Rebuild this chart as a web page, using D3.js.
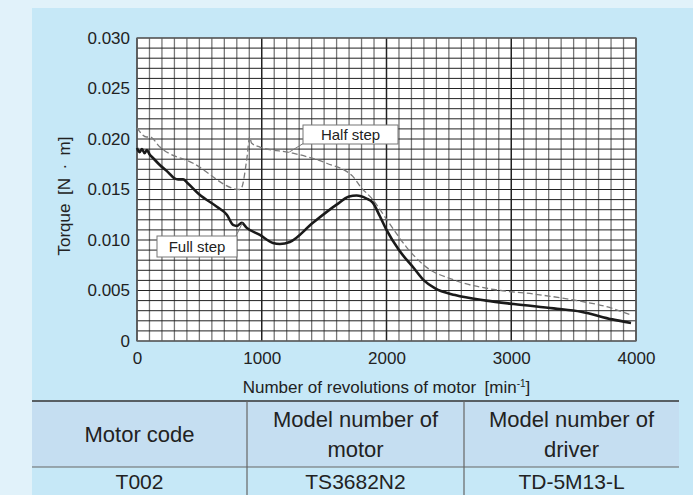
<!DOCTYPE html>
<meta charset="utf-8">
<style>
body { margin: 0; background: #e1f2fa; }
svg { display: block; font-family: "Liberation Sans", Arial, sans-serif; }
.tick text { fill: #222; }
</style>
<body>
<script src="https://d3js.org/d3.v7.min.js"></script>
<script>
// chart values
var fullRpm    = [0, 20, 40, 60, 80, 100, 130, 185, 250, 300, 330, 370, 400, 500, 640, 720, 770, 800, 840, 880, 985, 1090, 1145, 1225, 1410, 1600, 1700, 1760, 1840, 1890, 1945, 2000, 2100, 2220, 2300, 2390, 2550, 2800, 3020, 3340, 3560, 3810, 3960];
var fullTorque = [0.0191, 0.0187, 0.0190, 0.0186, 0.0189, 0.0185, 0.0181, 0.0174, 0.0167, 0.0161, 0.0160, 0.0160, 0.0157, 0.0145, 0.0133, 0.0125, 0.0115, 0.0114, 0.0117, 0.0112, 0.0105, 0.0097, 0.0096, 0.0098, 0.0117, 0.0135, 0.0143, 0.0144, 0.0141, 0.0137, 0.0124, 0.0110, 0.0090, 0.0072, 0.0060, 0.0052, 0.00455, 0.0040, 0.00366, 0.00323, 0.0029, 0.00214, 0.00178];

var halfRpm    = [0, 77, 104, 184, 450, 824, 840, 880, 904, 918, 985, 1250, 1520, 1730, 1790, 1890, 2020, 2160, 2300, 2550, 2860, 3180, 3500, 3810, 3960];
var halfTorque = [0.0211, 0.0202, 0.0202, 0.0192, 0.0176, 0.0150, 0.0152, 0.0180, 0.0202, 0.0196, 0.0192, 0.0186, 0.0176, 0.0163, 0.0153, 0.0140, 0.0117, 0.0093, 0.0075, 0.0060, 0.0051, 0.00465, 0.00406, 0.00323, 0.00257];

var xTicks = [0, 1000, 2000, 3000, 4000];
var yTicks = [0, 0.005, 0.010, 0.015, 0.020, 0.025, 0.030];

var tableHead = [["Motor code"], ["Model number of", "motor"], ["Model number of", "driver"]];
var tableRow  = ["T002", "TS3682N2", "TD-5M13-L"];

var width = 693, height = 495;
var margin = {left: 137, top: 38, right: 57, bottom: 154};
var pw = width - margin.left - margin.right,
    ph = height - margin.top - margin.bottom;

var svg = d3.select("body").append("svg")
    .attr("width", width)
    .attr("height", height);

svg.append("rect").attr("width", width).attr("height", height).attr("fill", "#e1f2fa");
svg.append("rect").attr("x", 32).attr("y", 8)
    .attr("width", width - 32).attr("height", height - 8)
    .attr("fill", "#c6e8f7");

var x = d3.scaleLinear().domain([0, 4000]).range([0, pw]);
var y = d3.scaleLinear().domain([0, 0.030]).range([ph, 0]);

var g = svg.append("g").attr("transform", "translate(" + margin.left + "," + margin.top + ")");

g.append("rect").attr("width", pw).attr("height", ph).attr("fill", "#fff");

// grid: every 100 rpm and every 0.001 N·m
g.selectAll(".vgrid")
  .data(d3.range(0, 4001, 100))
  .enter().append("line")
    .attr("x1", function(d) { return x(d); })
    .attr("x2", function(d) { return x(d); })
    .attr("y1", 0).attr("y2", ph)
    .attr("stroke", function(d) { return d % 1000 === 0 ? "#222" : "#777"; })
    .attr("stroke-width", function(d) { return d % 1000 === 0 ? 1.5 : 1.3; });

g.selectAll(".hgrid")
  .data(d3.range(0, 31))
  .enter().append("line")
    .attr("x1", 0).attr("x2", pw)
    .attr("y1", function(d) { return y(d / 1000); })
    .attr("y2", function(d) { return y(d / 1000); })
    .attr("stroke", "#222")
    .attr("stroke-width", 1);

g.append("rect").attr("width", pw).attr("height", ph)
    .attr("fill", "none").attr("stroke", "#666").attr("stroke-width", 1.3);

// axes
var yAxis = d3.axisLeft(y).tickValues(yTicks).tickSize(0).tickPadding(7)
    .tickFormat(function(d) { return d === 0 ? "0" : d3.format(".3f")(d); });
g.append("g").call(yAxis)
    .call(function(s) { s.select(".domain").remove(); })
    .selectAll("text").attr("font-size", 17).attr("font-family", null);

var xAxis = d3.axisBottom(x).tickValues(xTicks).tickSize(0).tickPadding(11)
    .tickFormat(d3.format("d"));
g.append("g").attr("transform", "translate(0," + ph + ")").call(xAxis)
    .call(function(s) { s.select(".domain").remove(); })
    .selectAll("text").attr("font-size", 17).attr("font-family", null);

// curves
var line = d3.line().curve(d3.curveMonotoneX);

g.append("path")
    .attr("d", line(halfRpm.map(function(d, i) { return [x(d), y(halfTorque[i])]; })))
    .attr("fill", "none")
    .attr("stroke", "#7a7a7a")
    .attr("stroke-width", 1.3)
    .attr("stroke-dasharray", "6,3");

g.append("path")
    .attr("d", line(fullRpm.map(function(d, i) { return [x(d), y(fullTorque[i])]; })))
    .attr("fill", "none")
    .attr("stroke", "#1a1a1a")
    .attr("stroke-width", 2.6)
    .attr("stroke-linejoin", "round");

// callout labels
function callout(text, bx, bw, by, bh, from, to) {
  g.append("line")
    .attr("x1", x(from[0])).attr("y1", y(from[1]))
    .attr("x2", to[0]).attr("y2", to[1])
    .attr("stroke", "#777").attr("stroke-width", 1);
  g.append("rect")
    .attr("x", bx).attr("y", by).attr("width", bw).attr("height", bh)
    .attr("fill", "#fff").attr("stroke", "#777").attr("stroke-width", 1);
  g.append("text")
    .attr("x", bx + bw / 2).attr("y", by + bh / 2)
    .attr("dy", "0.35em").attr("text-anchor", "middle")
    .attr("font-size", 15).attr("fill", "#222")
    .text(text);
}
callout("Half step", 166, 95, 87, 19, [1220, 0.0187], [167, 105]);
callout("Full step", 20, 80, 198, 21, [845, 0.0117], [99, 198]);

// axis titles
svg.append("text")
    .attr("transform", "translate(70,196) rotate(-90)")
    .attr("text-anchor", "middle")
    .attr("font-size", 17).attr("fill", "#222")
    .text("Torque\u2002[N\u2002\u00b7\u2002m]");

var xt = svg.append("text")
    .attr("x", margin.left + pw / 2).attr("y", 393)
    .attr("text-anchor", "middle")
    .attr("font-size", 17).attr("fill", "#222")
    .text("Number of revolutions of motor\u2002[min");
xt.append("tspan").attr("font-size", 10).attr("dy", -6).text("-1");
xt.append("tspan").attr("dy", 6).text("]");

// table
var tx = [32, 247, 464, 679];
var tTop = 401, tMid = 467, tBot = 495;

svg.append("rect").attr("x", tx[0]).attr("y", tTop)
    .attr("width", tx[3] - tx[0]).attr("height", tMid - tTop)
    .attr("fill", "#c5def1");

svg.append("line").attr("x1", tx[0]).attr("x2", tx[3]).attr("y1", tTop).attr("y2", tTop)
    .attr("stroke", "#333").attr("stroke-width", 1.5);
svg.append("line").attr("x1", tx[0]).attr("x2", tx[3]).attr("y1", tMid).attr("y2", tMid)
    .attr("stroke", "#666").attr("stroke-width", 1.2);
svg.selectAll(".colline").data([tx[1], tx[2]]).enter().append("line")
    .attr("x1", function(d) { return d; }).attr("x2", function(d) { return d; })
    .attr("y1", tTop).attr("y2", tBot)
    .attr("stroke", "#666").attr("stroke-width", 1.2);

tableHead.forEach(function(lines, i) {
  var cx = (tx[i] + tx[i + 1]) / 2;
  var t = svg.append("text")
      .attr("text-anchor", "middle")
      .attr("font-size", 22).attr("fill", "#222");
  lines.forEach(function(s, j) {
    var cy = (tTop + tMid) / 2 + (j - (lines.length - 1) / 2) * 30;
    t.append("tspan").attr("x", cx).attr("y", cy).attr("dy", "0.35em").text(s);
  });
});

svg.selectAll(".cell").data(tableRow).enter().append("text")
    .attr("x", function(d, i) { return (tx[i] + tx[i + 1]) / 2; })
    .attr("y", (tMid + tBot) / 2 + 1)
    .attr("dy", "0.35em")
    .attr("text-anchor", "middle")
    .attr("font-size", 21).attr("fill", "#222")
    .text(function(d) { return d; });
</script>
</body>
